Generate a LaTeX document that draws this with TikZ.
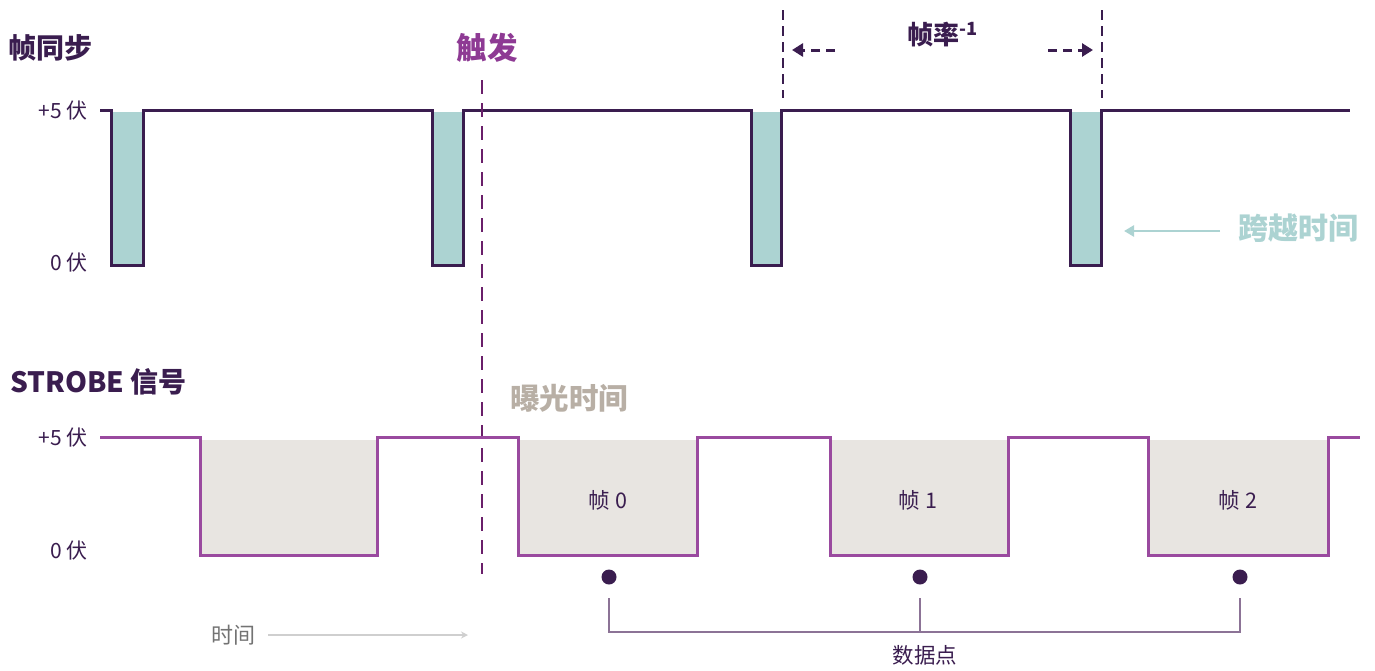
\documentclass[tikz,border=0pt]{standalone}
\usepackage{fontspec}
\setmainfont{Noto Sans CJK SC}
\usetikzlibrary{arrows.meta}
\definecolor{dk}{HTML}{3A1D4F}
\definecolor{pu}{HTML}{9A4A9F}
\definecolor{trg}{HTML}{8E3A94}
\definecolor{trl}{HTML}{6A1F6A}
\definecolor{teal}{HTML}{ACD3D2}
\definecolor{gfill}{HTML}{E8E5E1}
\definecolor{beige}{HTML}{B8AFA5}
\definecolor{brk}{HTML}{8C7396}
\definecolor{tgray}{HTML}{CFCFCF}
\tikzset{
  title/.style={font=\bfseries\fontsize{28}{30}\selectfont, text=dk, inner sep=0pt},
  lvl/.style={font=\fontsize{21}{23}\selectfont, text=dk, anchor=east, inner sep=0pt},
  frm/.style={font=\fontsize{21.5}{23}\selectfont, text=dk, inner sep=0pt},
  sig/.style={line width=3pt, line join=miter},
  dot/.style={circle, fill=dk, minimum size=15pt, inner sep=0pt},
  vdash/.style={dk, line width=2.5pt, dash pattern=on 10pt off 6pt},
}
\begin{document}
\begin{tikzpicture}[x=1pt,y=-1pt]
\useasboundingbox (0,0) rectangle (1375,670);
% ---------- top: frame sync ----------
\node[title] (fs) at (51,48) {帧同步};
\node[lvl] (p5a) at (88,111) {+5 伏};
\node[lvl] (z0a) at (88,263) {0 伏};
\foreach \a/\b in {111/143, 432/463, 751/781, 1070/1101}
  \fill[teal] (\a,112) rectangle (\b,265);
\draw[sig, dk] (100,110) -- (111,110) -- (111,265) -- (143,265) -- (143,110)
  -- (432,110) -- (432,265) -- (463,265) -- (463,110)
  -- (751,110) -- (751,265) -- (781,265) -- (781,110)
  -- (1070,110) -- (1070,265) -- (1101,265) -- (1101,110) -- (1350,110);
% frame rate
\draw[vdash] (783,10) -- (783,98);
\draw[vdash] (1102,10) -- (1102,98);
\node[font=\bfseries\fontsize{26}{28}\selectfont, text=dk, inner sep=0pt] (fr) at (943,35) {帧率\textsuperscript{-1}};
\coordinate (la) at (835,50);
\coordinate (lb) at (792,50);
\coordinate (ra) at (1048,50);
\coordinate (rb) at (1093,50);
\draw[dk, line width=3pt, dash pattern=on 9pt off 6pt, -{Triangle[length=11pt,width=13pt]}] (la) -- (lb);
\draw[dk, line width=3pt, dash pattern=on 9pt off 6pt, -{Triangle[length=11pt,width=13pt]}] (ra) -- (rb);
% crossing time
\node[font=\bfseries\fontsize{30}{32}\selectfont, text=teal, inner sep=0pt] (ct) at (1298,228) {跨越时间};
\coordinate (cte) at (1124,231);
\draw[teal, line width=2.5pt, -{Triangle[length=10pt,width=11pt]}] (1220,231) -- (cte);
% trigger
\node[font=\bfseries\fontsize{30.5}{32}\selectfont, text=trg, inner sep=0pt] (trig) at (487,48) {触发};
\draw[trl, line width=2pt, dash pattern=on 14pt off 9pt] (482,80) -- (482,574);
% ---------- bottom: strobe ----------
\node[title, anchor=west] (st) at (10,382) {STROBE 信号};
\node[font=\bfseries\fontsize{29.5}{31}\selectfont, text=beige, inner sep=0pt] (ex) at (569,398) {曝光时间};
\node[lvl] (p5b) at (88,438) {+5 伏};
\node[lvl] (z0b) at (88,551) {0 伏};
\foreach \a/\b in {200/377, 518/697, 830/1008, 1148/1328}
  \fill[gfill] (\a,440) rectangle (\b,555);
\draw[sig, pu] (100,437) -- (200,437) -- (200,555) -- (377,555) -- (377,437)
  -- (518,437) -- (518,555) -- (697,555) -- (697,437)
  -- (830,437) -- (830,555) -- (1008,555) -- (1008,437)
  -- (1148,437) -- (1148,555) -- (1328,555) -- (1328,437) -- (1360,437);
\node[frm] (f0) at (608,500) {帧 0};
\node[frm] (f1) at (918,500) {帧 1};
\node[frm] (f2) at (1238,500) {帧 2};
\node[dot] (d0) at (609,577) {};
\node[dot] (d1) at (920,577) {};
\node[dot] (d2) at (1240,577) {};
\coordinate (b0) at (609,598);
\coordinate (b1) at (920,598);
\coordinate (b2) at (1240,598);
\draw[brk, line width=1.5pt] (b0) -- (609,632) -- (1240,632) -- (b2);
\draw[brk, line width=1.5pt] (b1) -- (920,632);
\node[frm] (dp) at (925,655) {数据点};
% time axis
\node[font=\fontsize{22}{24}\selectfont, text=gray!90!black, inner sep=0pt] (tm) at (233,635) {时间};
\coordinate (te) at (468,635);
\draw[tgray, line width=1.5pt, -{Stealth[length=7pt,width=7pt]}] (268,635) -- (te);
\end{tikzpicture}
\end{document}
